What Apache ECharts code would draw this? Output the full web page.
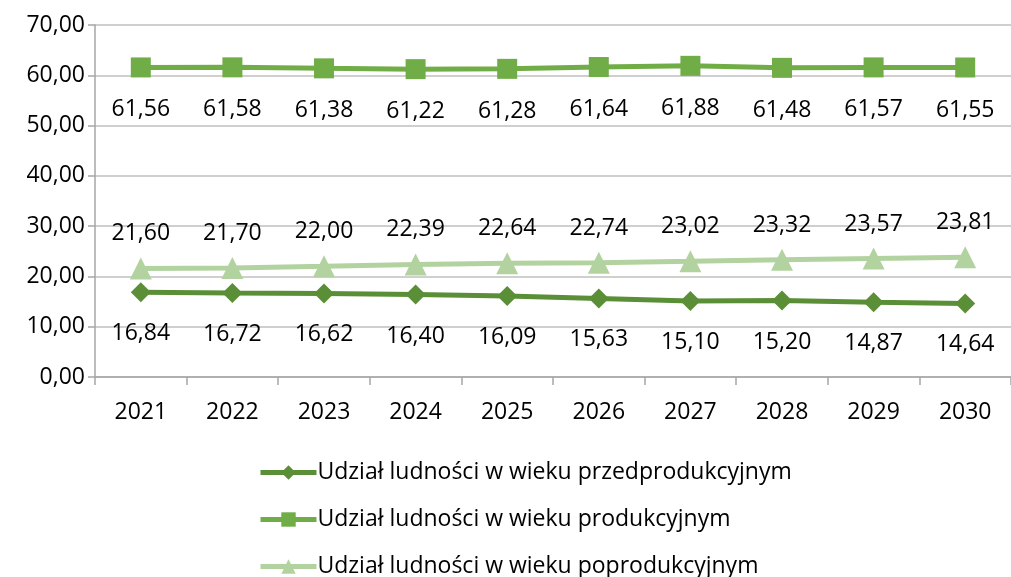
<!DOCTYPE html>
<html><head><meta charset="utf-8">
<script src="https://cdn.jsdelivr.net/npm/echarts@6/dist/echarts.min.js"></script>
<style>html,body{margin:0;padding:0;background:#fff}#c{width:1011px;height:577px}</style>
</head><body><div id="c"></div>
<script>
const categories = ['2021','2022','2023','2024','2025','2026','2027','2028','2029','2030'];
const seriesNames = ['Udział ludności w wieku przedprodukcyjnym','Udział ludności w wieku produkcyjnym','Udział ludności w wieku poprodukcyjnym'];
const przed = [16.84,16.72,16.62,16.40,16.09,15.63,15.10,15.20,14.87,14.64];
const prod = [61.56,61.58,61.38,61.22,61.28,61.64,61.88,61.48,61.57,61.55];
const po = [21.60,21.70,22.00,22.39,22.64,22.74,23.02,23.32,23.57,23.81];
const yTicks = [0,10,20,30,40,50,60,70];

const fmt = v => v.toFixed(2).replace('.', ',');
const font = "'Open Sans', 'Noto Sans', sans-serif";
const lbl = (pos, dist) => ({show:true, position:pos, distance:dist, color:'#000', fontSize:23, fontFamily:font, formatter:p=>fmt(p.value)});

const chart = echarts.init(document.getElementById('c'), null, {renderer:'canvas'});
chart.setOption({
  animation:false,
  grid:{left:95, right:-9, top:25, bottom:200, containLabel:false},
  xAxis:{type:'category', data:categories, boundaryGap:true,
    axisLine:{lineStyle:{color:'#a6a6a6', width:1.5}},
    axisTick:{show:true, alignWithLabel:false, length:8, lineStyle:{color:'#a6a6a6', width:1.5}},
    axisLabel:{color:'#000', fontSize:23, fontFamily:font, margin:24}},
  yAxis:{type:'value', min:yTicks[0], max:yTicks[yTicks.length-1], interval:10,
    axisLine:{show:true, lineStyle:{color:'#a6a6a6', width:1.5}},
    axisTick:{show:true, length:7, lineStyle:{color:'#a6a6a6', width:1.5}},
    splitLine:{lineStyle:{color:'#bfbfbf', width:1.5}},
    axisLabel:{color:'#000', fontSize:23, fontFamily:font, margin:10, formatter:v=>fmt(v)}},
  legend:{orient:'vertical', left:253, top:456, height:160, itemWidth:56, itemHeight:18, itemGap:24,
    lineStyle:{width:5},
    textStyle:{color:'#000', fontSize:23, fontFamily:font, padding:[0,0,0,-4]},
    data:seriesNames},
  series:[
    {name:seriesNames[0], type:'line', data:przed, symbol:'diamond', symbolSize:20,
     lineStyle:{color:'#5a8f37', width:5}, itemStyle:{color:'#5a8f37'}, label:lbl('bottom',20)},
    {name:seriesNames[1], type:'line', data:prod, symbol:'rect', symbolSize:20,
     lineStyle:{color:'#70ad47', width:5}, itemStyle:{color:'#70ad47'}, label:lbl('bottom',21)},
    {name:seriesNames[2], type:'line', data:po, symbol:'triangle', symbolSize:22,
     lineStyle:{color:'#b2d3a0', width:5}, itemStyle:{color:'#b2d3a0'}, label:lbl('top',12)}
  ]
});
</script></body></html>
